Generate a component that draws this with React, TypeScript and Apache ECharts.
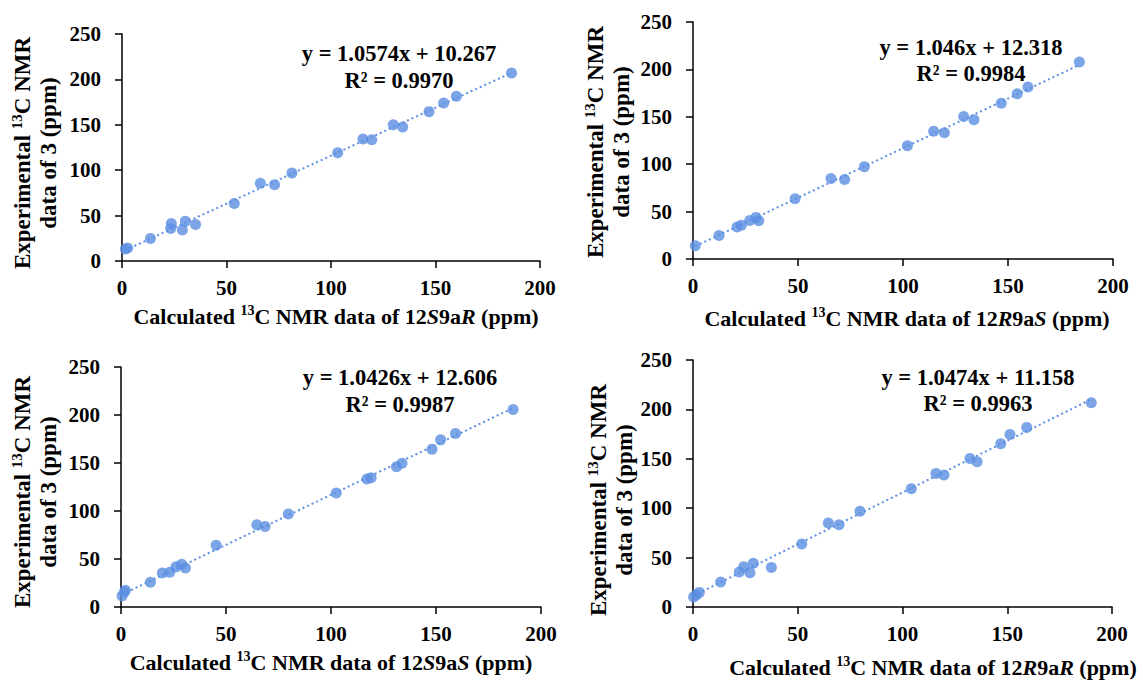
import React, { useEffect, useRef } from "react";
import * as echarts from "echarts";

// ---- Data ----
// Panel 1: 12S9aR
const calc12S9aR = [1.6, 2.7, 13.6, 23.3, 23.6, 28.9, 30.3, 35.2, 53.7, 66.2, 73.0, 81.3, 103.2, 115.3, 119.5, 129.8, 134.3, 146.9, 153.9, 160.0, 186.4];
const exp12S9aR = [13.2, 14.3, 24.7, 35.7, 41.2, 34.2, 43.8, 40.1, 63.3, 85.7, 83.9, 96.8, 119.2, 134.3, 133.6, 150.1, 147.5, 164.5, 174.0, 181.4, 207.1];
// Panel 2: 12R9aS
const calc12R9aS = [1.1, 12.4, 21.0, 23.0, 27.0, 30.0, 31.3, 48.6, 65.7, 72.2, 81.6, 102.1, 114.6, 119.7, 128.9, 133.8, 146.8, 154.4, 159.5, 184.0];
const exp12R9aS = [14.0, 24.9, 33.7, 35.5, 40.7, 43.9, 40.4, 63.6, 85.0, 83.9, 97.3, 119.4, 134.8, 133.1, 150.3, 146.8, 164.3, 174.2, 181.5, 207.9];
// Panel 3: 12S9aS
const calc12S9aS = [0.5, 1.6, 2.1, 14.0, 19.7, 23.2, 26.2, 28.9, 30.7, 45.3, 64.7, 68.6, 79.7, 102.5, 117.1, 119.1, 131.2, 133.8, 148.1, 152.2, 159.3, 186.7];
const exp12S9aS = [11.5, 15.7, 17.4, 25.8, 35.5, 36.2, 41.8, 44.6, 40.7, 64.4, 85.7, 83.9, 96.8, 118.7, 133.4, 134.7, 146.2, 149.7, 164.3, 174.1, 180.7, 205.8];
// Panel 4: 12R9aR
const calc12R9aR = [0.3, 1.6, 3.0, 13.2, 22.1, 24.2, 27.2, 28.8, 37.4, 51.9, 64.6, 69.7, 79.7, 104.2, 116.0, 119.8, 132.2, 135.6, 146.9, 151.3, 159.3, 190.1];
const exp12R9aR = [10.1, 12.1, 14.8, 25.3, 35.4, 40.8, 34.7, 44.2, 40.1, 63.7, 85.0, 83.3, 96.8, 119.7, 135.2, 133.6, 150.4, 147.0, 165.3, 174.7, 181.8, 206.7];

const slopes = [1.0574, 1.046, 1.0426, 1.0474];
const intercepts = [10.267, 12.318, 12.606, 11.158];
const r2Labels = ["0.9970", "0.9984", "0.9987", "0.9963"];
const isomerLabels = ["12{it|S}9a{it|R}", "12{it|R}9a{it|S}", "12{it|S}9a{it|S}", "12{it|R}9a{it|R}"];
const xTickValues = [0, 50, 100, 150, 200];
const yTickValues = [0, 50, 100, 150, 200, 250];

const calcSets = [calc12S9aR, calc12R9aS, calc12S9aS, calc12R9aR];
const expSets = [exp12S9aR, exp12R9aS, exp12S9aS, exp12R9aR];

// ---- Layout ----
const grids = [
  { left: 122, top: 34, width: 418, height: 227 },
  { left: 693, top: 22, width: 420, height: 237 },
  { left: 121, top: 367, width: 420, height: 240 },
  { left: 693, top: 360, width: 419, height: 247 },
];
const eqPos = [
  [399, 53, 80],
  [971, 47, 73],
  [400, 377, 404],
  [978, 377, 403],
];
const xTitlePos = [
  [336, 316],
  [907, 318],
  [331, 662],
  [933, 667],
];
const yTitlePos = [
  [35, 153],
  [608, 142],
  [35, 492],
  [611, 500],
];

const FONT = "Liberation Serif, Times New Roman, serif";
const BLUE = "#5B8FE2";

const mk = (size: number, extra: any = {}) => ({
  fontFamily: FONT,
  fontSize: size,
  fontWeight: "bold",
  fill: "#000",
  ...extra,
});

const richFor = (size: number) => ({
  sup: mk(Math.round(size * 0.64), { lineHeight: 16, verticalAlign: "top" }),
  it: mk(size, { fontStyle: "italic", lineHeight: 26 }),
});

export default function App() {
  const ref = useRef<HTMLDivElement>(null);
  useEffect(() => {
    if (!ref.current) return;
    const chart = echarts.init(ref.current, undefined, { renderer: "svg" });

    const xAxis: any[] = [];
    const yAxis: any[] = [];
    const series: any[] = [];
    const graphic: any[] = [];

    grids.forEach((g, i) => {
      const axisCommon = {
        type: "value",
        gridIndex: i,
        splitLine: { show: false },
        axisLine: { show: true, onZero: false, lineStyle: { color: "#000", width: 1.5 } },
        axisTick: { show: true, inside: false, length: 7, lineStyle: { color: "#000", width: 1.5 } },
        axisLabel: { color: "#000", fontFamily: FONT, fontSize: 21, fontWeight: "bold" },
      };
      xAxis.push({
        ...axisCommon,
        min: xTickValues[0],
        max: xTickValues[xTickValues.length - 1],
        interval: xTickValues[1] - xTickValues[0],
        axisLabel: { ...axisCommon.axisLabel, margin: 16 },
      });
      yAxis.push({
        ...axisCommon,
        min: yTickValues[0],
        max: yTickValues[yTickValues.length - 1],
        interval: yTickValues[1] - yTickValues[0],
        axisLabel: { ...axisCommon.axisLabel, margin: 21 },
      });

      const xs = calcSets[i];
      const ys = expSets[i];
      const minX = Math.min(...xs);
      const maxX = Math.max(...xs);
      series.push({
        type: "line",
        xAxisIndex: i,
        yAxisIndex: i,
        data: [
          [minX, slopes[i] * minX + intercepts[i]],
          [maxX, slopes[i] * maxX + intercepts[i]],
        ],
        showSymbol: false,
        symbol: "none",
        lineStyle: { color: BLUE, width: 2, type: [2, 3] },
        z: 1,
        silent: true,
      });
      series.push({
        type: "scatter",
        xAxisIndex: i,
        yAxisIndex: i,
        data: xs.map((x, k) => [x, ys[k]]),
        symbol: "circle",
        symbolSize: 11,
        itemStyle: { color: BLUE },
        z: 2,
      });

      graphic.push({
        type: "text",
        x: eqPos[i][0],
        y: eqPos[i][1],
        style: mk(22.5, {
          text: `y = ${slopes[i]}x + ${intercepts[i]}`,
          align: "center",
          verticalAlign: "middle",
        }),
      });
      graphic.push({
        type: "text",
        x: eqPos[i][0],
        y: eqPos[i][2],
        style: mk(22.5, {
          text: `R² = ${r2Labels[i]}`,
          align: "center",
          verticalAlign: "middle",
        }),
      });
      graphic.push({
        type: "text",
        x: xTitlePos[i][0],
        y: xTitlePos[i][1],
        style: mk(22, {
          text: `Calculated {sup|13}C NMR data of ${isomerLabels[i]} (ppm)`,
          align: "center",
          verticalAlign: "middle",
          lineHeight: 26,
          rich: richFor(22),
        }),
      });
      graphic.push({
        type: "text",
        x: yTitlePos[i][0],
        y: yTitlePos[i][1],
        rotation: Math.PI / 2,
        style: mk(23, {
          text: "Experimental {sup|13}C NMR\ndata of 3 (ppm)",
          align: "center",
          verticalAlign: "middle",
          lineHeight: 26,
          rich: richFor(23),
        }),
      });
    });

    chart.setOption({
      animation: false,
      backgroundColor: "#fff",
      grid: grids.map((g) => ({ ...g, containLabel: false })),
      xAxis,
      yAxis,
      series,
      graphic,
    });
    return () => chart.dispose();
  }, []);
  return (
    <div
      ref={ref}
      style={{ position: "absolute", left: 0, top: 0, width: 1143, height: 680 }}
    />
  );
}
